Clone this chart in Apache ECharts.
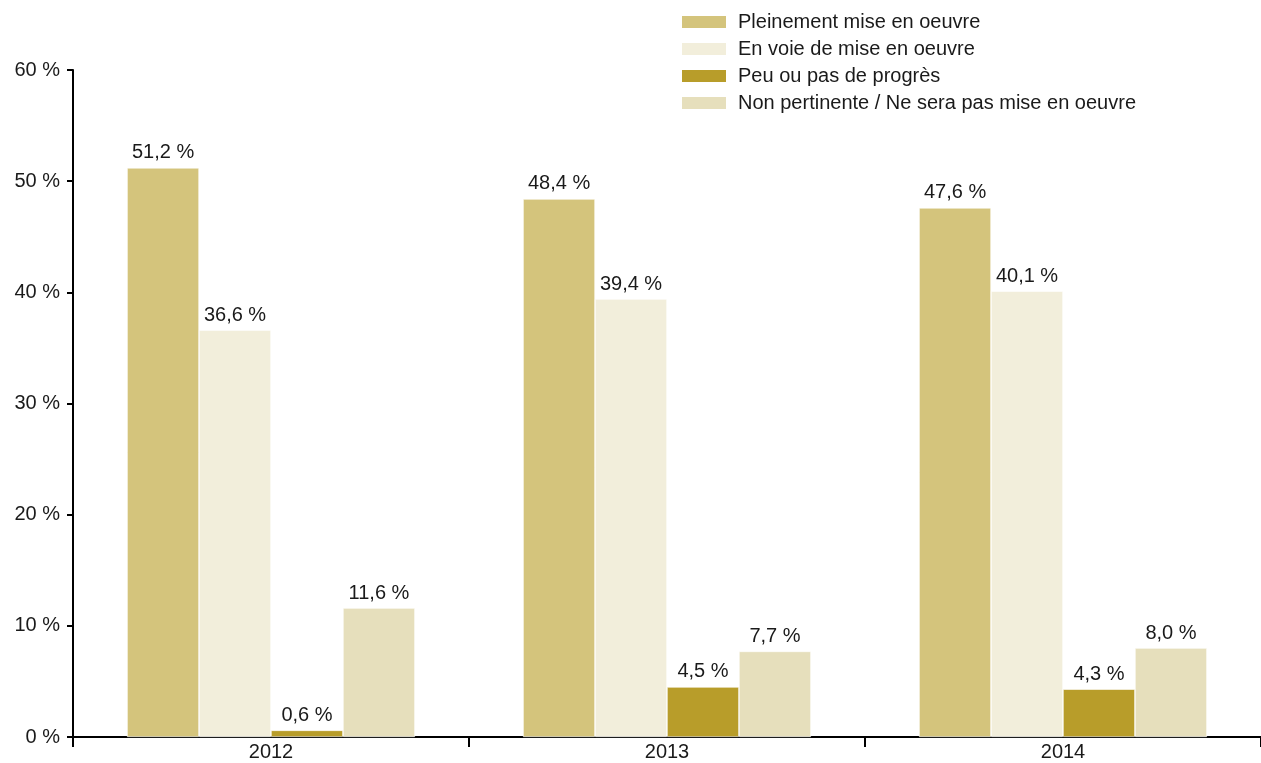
<!DOCTYPE html>
<html><head><meta charset="utf-8">
<script src="https://cdn.jsdelivr.net/npm/echarts@6/dist/echarts.min.js"></script>
<style>html,body{margin:0;padding:0;background:#fff}#c{width:1261px;height:763px}</style>
</head><body><div id="c"></div>
<script>
const categories = ['2012', '2013', '2014'];
const seriesNames = ['Pleinement mise en oeuvre', 'En voie de mise en oeuvre', 'Peu ou pas de progrès', 'Non pertinente / Ne sera pas mise en oeuvre'];
const pleinement = [51.2, 48.4, 47.6];
const enVoie = [36.6, 39.4, 40.1];
const peu = [0.6, 4.5, 4.3];
const nonPertinente = [11.6, 7.7, 8.0];
const colors = ['#D4C47C', '#F2EEDB', '#B89D2A', '#E6DFBC'];

const font = 'Liberation Sans';
const fmt = v => v.toFixed(1).replace('.', ',') + ' %';
const allData = [pleinement, enVoie, peu, nonPertinente];

const chart = echarts.init(document.getElementById('c'));
chart.setOption({
  animation: false,
  textStyle: { fontFamily: font },
  grid: { left: 73, right: 0, top: 70, bottom: 26, containLabel: false },
  legend: {
    orient: 'vertical', left: 680, top: 12, padding: 0,
    itemWidth: 46, itemHeight: 14, itemGap: 7,
    icon: 'rect',
    textStyle: { fontFamily: font, fontSize: 20, color: '#1a1a1a', lineHeight: 20, padding: [0, 0, 0, 6] },
    data: seriesNames
  },
  xAxis: {
    type: 'category', data: categories,
    axisLine: { lineStyle: { color: '#000', width: 2 } },
    axisTick: { show: true, length: 10, lineStyle: { color: '#000', width: 2 } },
    axisLabel: { fontSize: 20, color: '#1a1a1a', margin: 5, fontFamily: font }
  },
  yAxis: {
    type: 'value', min: 0, max: 60, interval: 10,
    splitLine: { show: false },
    axisLine: { show: true, lineStyle: { color: '#000', width: 2 } },
    axisTick: { show: true, length: 6, lineStyle: { color: '#000', width: 2 } },
    axisLabel: { fontSize: 20, color: '#1a1a1a', margin: 13, fontFamily: font, formatter: v => v + ' %' }
  },
  series: seriesNames.map((n, i) => ({
    name: n, type: 'bar', data: allData[i],
    barGap: '0%', barCategoryGap: '27.3%',
    itemStyle: { color: colors[i], borderColor: '#fff', borderWidth: 0.6 },
    label: { show: true, position: 'top', distance: 5, fontSize: 20, color: '#1a1a1a', fontFamily: font, formatter: p => fmt(p.value) }
  }))
});
</script></body></html>
